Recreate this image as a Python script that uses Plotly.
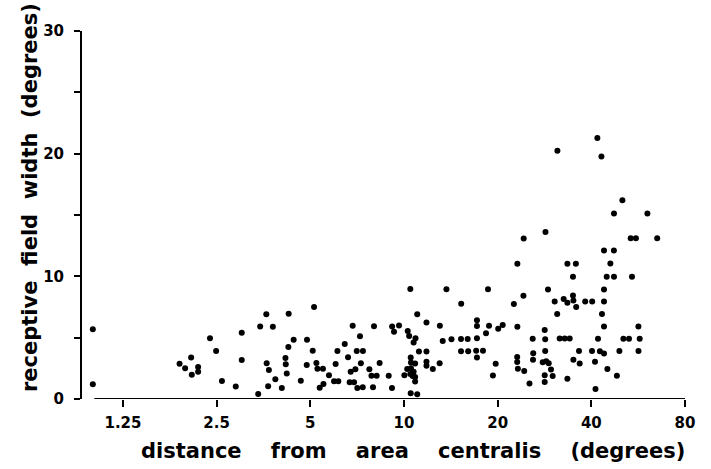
import math
import plotly.graph_objects as go

# distance from area centralis (degrees)
distance_near = [1.0, 1.0, 1.90, 1.98, 2.07, 2.08, 2.18, 2.18, 2.38, 2.49,
                 2.60, 2.88, 3.01, 3.01, 3.40, 3.45, 3.61, 3.79, 3.62, 3.68,
                 3.66, 3.86, 4.05, 4.16, 4.17, 4.20, 4.25, 4.26, 4.42, 4.66,
                 4.88, 5.14, 5.09, 4.87, 5.23, 5.27, 5.49, 5.36, 5.51, 5.74,
                 6.03, 5.96, 6.15, 6.11, 6.45, 6.61, 6.84, 6.74, 6.98, 6.69,
                 6.91, 7.05, 7.38, 7.22, 7.27, 7.08, 7.37, 7.74, 7.86, 8.17,
                 7.95, 8.01, 8.35, 8.93, 9.15, 9.16, 9.29, 9.64]
width_near = [5.69, 1.20, 2.88, 2.51, 3.39, 1.98, 2.61, 2.23, 4.96, 3.92,
              1.47, 1.02, 5.41, 3.18, 0.41, 5.92, 6.91, 5.89, 2.91, 2.37,
              1.04, 1.62, 0.90, 3.35, 2.83, 2.08, 4.24, 6.94, 4.84, 1.49,
              4.84, 7.51, 3.94, 2.78, 2.94, 2.47, 2.47, 0.92, 1.22, 1.93,
              2.86, 1.44, 1.44, 3.92, 4.49, 3.40, 5.98, 2.23, 2.42, 1.36,
              1.36, 3.92, 3.92, 5.12, 2.91, 0.90, 0.96, 2.42, 1.90, 1.90,
              0.96, 5.93, 2.94, 1.90, 0.90, 5.92, 5.49, 6.00]

distance_mid = [10.48, 11.03, 10.28, 10.39, 10.89, 10.74, 11.17, 11.81, 10.03, 10.24,
                10.51, 10.53, 10.86, 10.53, 10.74, 10.48, 10.66, 10.86, 10.86, 10.51,
                11.03, 11.81, 11.81, 12.38, 13.02, 11.81, 13.04, 13.32, 14.21, 13.69,
                15.27, 15.25, 16.02, 15.25, 16.08, 17.16, 17.16, 17.16, 17.06, 17.94,
                17.16, 18.35, 18.76, 18.62, 20.08]
width_mid = [8.96, 6.91, 5.55, 5.14, 4.96, 4.61, 3.88, 3.88, 1.93, 2.45,
             3.39, 2.98, 2.90, 2.51, 2.23, 2.04, 1.88, 1.80, 1.43, 0.47,
             0.38, 3.04, 2.72, 2.45, 2.91, 6.23, 5.98, 4.73, 4.88, 8.94,
             7.76, 4.90, 4.90, 3.89, 3.89, 6.43, 5.96, 4.96, 3.94, 3.94,
             3.39, 5.36, 5.98, 8.94, 5.73]

distance_far = [20.76, 19.71, 19.31, 22.55, 23.14, 24.25, 24.20, 28.49, 29.03, 23.14,
                23.11, 23.11, 23.23, 24.34, 25.31, 25.92, 26.02, 25.98, 28.33, 28.43,
                28.43, 27.91, 28.64, 29.18, 28.33, 28.33, 29.68, 30.05]
width_far = [6.04, 2.87, 1.92, 7.74, 11.02, 13.08, 8.42, 13.61, 8.92, 5.90,
             3.43, 3.02, 2.47, 2.29, 1.27, 4.91, 3.73, 3.20, 5.62, 4.88,
             3.92, 3.00, 3.08, 2.91, 1.93, 1.39, 2.41, 1.88]

distance_periph = [30.50, 31.07, 32.60, 33.51, 34.92, 35.03, 35.76, 33.51, 35.68, 34.92,
                   38.22, 40.26, 43.93, 47.27, 46.06, 44.82, 47.30, 54.04, 43.93, 43.93,
                   43.28, 43.93, 53.53, 55.63, 65.12, 31.65, 32.84, 34.08, 42.02, 50.71,
                   52.86, 56.67, 57.21, 56.71, 49.23, 36.51, 40.20, 42.62, 43.93, 35.03,
                   36.70, 41.10, 45.05, 48.33, 33.51, 41.25, 31.12, 41.83, 43.10, 50.34,
                   47.30, 60.57, 61.84]
width_periph = [7.94, 6.92, 8.16, 7.84, 8.43, 8.04, 7.49, 11.02, 11.02, 9.96,
                7.94, 7.94, 12.10, 12.10, 11.04, 9.96, 9.96, 9.96, 8.92, 7.94,
                6.92, 5.92, 13.10, 13.10, 13.10, 4.94, 4.94, 4.94, 4.92, 4.92,
                4.92, 5.92, 4.92, 3.92, 3.92, 3.92, 3.92, 3.89, 3.71, 3.20,
                2.90, 3.04, 2.45, 1.90, 1.66, 0.82, 20.24, 21.28, 19.77, 16.20,
                15.12, 15.12, 30.47]

x_ticks = [1.25, 2.5, 5, 10, 20, 40, 80]
x_tick_text = ["1.25", "2.5", "5", "10", "20", "40", "80"]
y_ticks = [0, 10, 20, 30]
y_tick_text = ["0", "10", "20", "30"]
y_minor_ticks = [5, 15, 25]

GAP_X = "\u00a0" * 4
GAP_Y = "\u00a0" * 2
x_title = GAP_X.join(["distance", "from", "area", "centralis", "(degrees)"])
y_title = GAP_Y.join(["receptive", "field", "width", "(degrees)"])

distance = distance_near + distance_mid + distance_far + distance_periph
width = width_near + width_mid + width_far + width_periph

FONT = "DejaVu Sans"
W, H = 711, 469
L, R, T, B = 82, 26, 31, 70
PW, PH = W - L - R, H - T - B

fig = go.Figure()
fig.add_trace(go.Scatter(
    x=distance, y=width, mode="markers",
    marker=dict(size=6, color="black", line=dict(width=0)),
    cliponaxis=False, showlegend=False, hoverinfo="skip",
))

x_right = math.log10(80)
x_left = x_right - PW / 311.17

fig.update_layout(
    width=W, height=H,
    margin=dict(l=L, r=R, t=T, b=B, pad=0),
    paper_bgcolor="white", plot_bgcolor="white",
    showlegend=False,
    xaxis=dict(
        type="log", range=[x_left, x_right],
        tickmode="array", tickvals=x_ticks, ticktext=x_tick_text,
        ticks="outside", ticklen=7, tickwidth=2, tickcolor="black",
        showline=False, showgrid=False, zeroline=False,
        tickfont=dict(family=FONT, size=15, color="black", weight="bold"),
        ticklabelstandoff=3,
    ),
    yaxis=dict(
        range=[0, 30],
        tickmode="array", tickvals=y_ticks, ticktext=y_tick_text,
        ticks="outside", ticklen=6, tickwidth=2, tickcolor="black",
        minor=dict(tickmode="array", tickvals=y_minor_ticks, ticks="outside",
                   ticklen=6, tickwidth=2, tickcolor="black"),
        showline=True, linewidth=2, linecolor="black",
        showgrid=False, zeroline=False,
        tickfont=dict(family=FONT, size=15, color="black", weight="bold"),
        ticklabelstandoff=7,
    ),
)

# detached x axis line (starts slightly right of the y axis)
fig.add_shape(type="line", xref="paper", yref="y",
              x0=(94.3 - L) / PW, x1=1.0, y0=0, y1=0,
              line=dict(color="black", width=2), layer="below")

fig.add_annotation(
    text=x_title, xref="paper", yref="paper",
    x=(412.5 - L) / PW, y=(H - B - 451) / PH,
    xanchor="center", yanchor="middle", showarrow=False,
    font=dict(family=FONT, size=21, color="black", weight="bold"),
)
fig.add_annotation(
    text=y_title, xref="paper", yref="paper",
    x=(30 - L) / PW, y=(H - B - 198) / PH,
    xanchor="center", yanchor="middle", textangle=-90, showarrow=False,
    font=dict(family=FONT, size=21, color="black", weight="bold"),
)

fig.write_html("out.html")
